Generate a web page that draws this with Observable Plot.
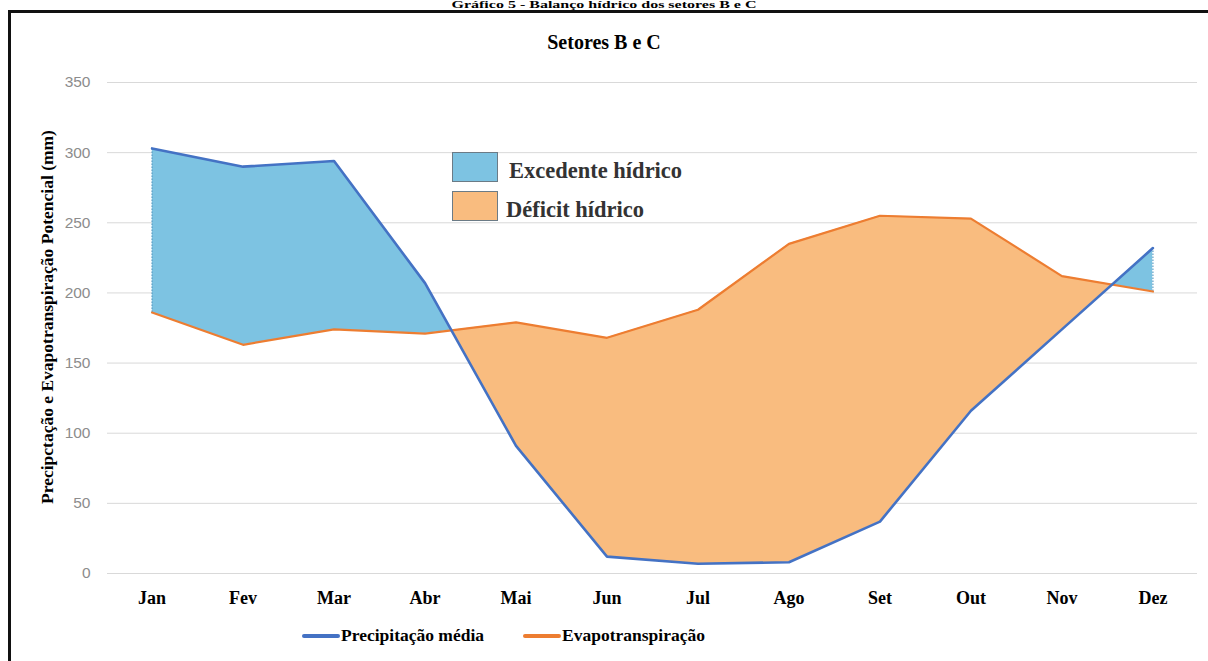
<!DOCTYPE html>
<html>
<head>
<meta charset="utf-8">
<script src="https://cdn.jsdelivr.net/npm/d3@7"></script>
<script src="https://cdn.jsdelivr.net/npm/@observablehq/plot@0.6"></script>
<style>
  html, body { margin: 0; padding: 0; background: #fff; overflow: hidden; }
  #wrap { position: relative; width: 1208px; height: 661px; overflow: hidden; background: #fff; }
  #frame { position: absolute; left: 8px; top: 10px; width: 1300px; height: 800px; border-left: 3px solid #111; border-top: 3px solid #111; }
  .serif { font-family: "Liberation Serif", "Times New Roman", serif; font-weight: bold; color: #000; }
  #chart { position: absolute; left: 0; top: 0; }
  .abs { position: absolute; white-space: nowrap; }
</style>
</head>
<body>
<div id="wrap">
  <div class="abs serif" style="left:0;width:1208px;text-align:center;top:0px;font-size:10px;line-height:10px;transform:scaleX(1.6);transform-origin:604px 0;">Gráfico 5 - Balanço hídrico dos setores B e C</div>
  <div id="frame"></div>
  <div id="chart"></div>
  <div class="abs serif" style="left:0;width:1208px;text-align:center;top:31px;font-size:20px;">Setores B e C</div>
  <div class="abs serif" style="left:47px;top:317px;transform:translate(-50%,-50%) rotate(-90deg);font-size:17.5px;">Precipctação e Evapotranspiração Potencial (mm)</div>
  <div id="legendTop"></div>
  <div id="legendBottom"></div>
</div>
<script>
const months = ["Jan","Fev","Mar","Abr","Mai","Jun","Jul","Ago","Set","Out","Nov","Dez"];
const precipitacao = [303, 290, 294, 207, 91, 12, 7, 8, 37, 116, 174, 232];
const evapotranspiracao = [186, 163, 174, 171, 179, 168, 188, 235, 255, 253, 212, 201];
const yTicks = [0, 50, 100, 150, 200, 250, 300, 350];
const seriesNames = ["Precipitação média", "Evapotranspiração"];
const areaNames = ["Excedente hídrico", "Déficit hídrico"];

const colors = {
  precip: "#4472C4",
  evapo: "#ED7D31",
  surplus: "#7DC3E2",
  deficit: "#F9BC7F"
};

const data = months.map((m, i) => ({month: m, p: precipitacao[i], e: evapotranspiracao[i]}));
const edges = [data[0], data[data.length - 1]];

const marks = [
  Plot.gridY(yTicks, {stroke: "#d9d9d9", strokeOpacity: 1, strokeWidth: 1}),
  Plot.axisY({ticks: yTicks, tickSize: 0, tickPadding: 17, fill: "#8c8c8c", fontSize: 15.5, fontFamily: "Liberation Sans, Arial, sans-serif"}),
  Plot.axisX({tickSize: 0, tickPadding: 18, fill: "#000", fontSize: 18, fontWeight: "bold", fontFamily: "Liberation Serif, Times New Roman, serif"})
];

if (Plot.differenceY) {
  marks.push(Plot.differenceY(data, {
    x: "month", y1: "e", y2: "p",
    positiveFill: colors.surplus, negativeFill: colors.deficit,
    fillOpacity: 1, positiveFillOpacity: 1, negativeFillOpacity: 1,
    stroke: "none"
  }));
} else {
  marks.push(Plot.areaY(data, {x: "month", y1: "e", y2: d => Math.max(d.p, d.e), fill: colors.surplus}));
  marks.push(Plot.areaY(data, {x: "month", y1: "p", y2: d => Math.max(d.p, d.e), fill: colors.deficit}));
}

marks.push(
  Plot.ruleX(edges, {x: "month", y1: "e", y2: "p", stroke: "#5e9ec4", strokeDasharray: "1.5,1.5", strokeWidth: 1.2}),
  Plot.lineY(data, {x: "month", y: "e", stroke: colors.evapo, strokeWidth: 2.2}),
  Plot.lineY(data, {x: "month", y: "p", stroke: colors.precip, strokeWidth: 2.6})
);

const chart = Plot.plot({
  width: 1208,
  height: 661,
  marginLeft: 107,
  marginRight: 11,
  marginTop: 82,
  marginBottom: 88,
  style: {background: "transparent", overflow: "visible"},
  x: {type: "point", domain: months, padding: 0.49, round: false, label: null},
  y: {domain: [0, 350], label: null},
  marks
});
document.getElementById("chart").appendChild(chart);

// inner legend (areas)
const lt = document.getElementById("legendTop");
const areaCols = [colors.surplus, colors.deficit];
const areaY = [152, 191];
const textX = [509, 506];
areaNames.forEach((name, i) => {
  const sw = document.createElement("div");
  sw.className = "abs";
  sw.style.cssText = `left:452px;top:${areaY[i]}px;width:46px;height:30px;background:${areaCols[i]};border:1px solid #6b7b86;box-sizing:border-box;`;
  lt.appendChild(sw);
  const tx = document.createElement("div");
  tx.className = "abs serif";
  tx.style.cssText = `left:${textX[i]}px;top:${areaY[i] + 6}px;font-size:22.5px;color:#333;line-height:26px;`;
  tx.textContent = name;
  lt.appendChild(tx);
});

// bottom legend (lines)
const lb = document.getElementById("legendBottom");
const lineCols = [colors.precip, colors.evapo];
const lineX = [302, 523];
seriesNames.forEach((name, i) => {
  const ln = document.createElement("div");
  ln.className = "abs";
  ln.style.cssText = `left:${lineX[i]}px;top:634px;width:38px;height:4px;border-radius:2px;background:${lineCols[i]};`;
  lb.appendChild(ln);
  const tx = document.createElement("div");
  tx.className = "abs serif";
  tx.style.cssText = `left:${lineX[i] + 39}px;top:624px;font-size:17.5px;line-height:22px;`;
  tx.textContent = name;
  lb.appendChild(tx);
});
</script>
</body>
</html>
